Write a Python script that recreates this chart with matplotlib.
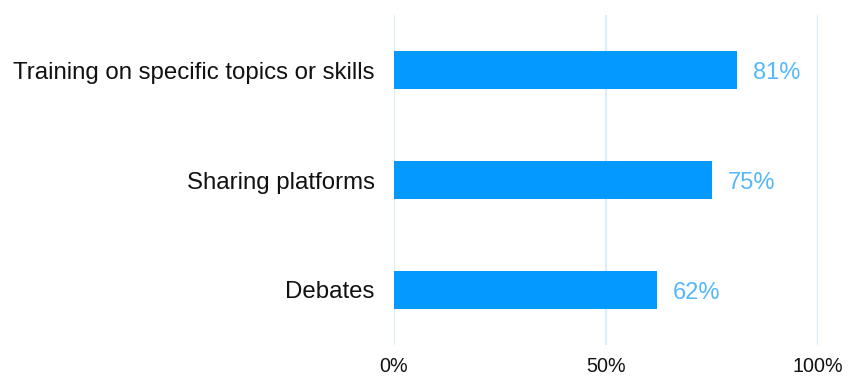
import matplotlib
matplotlib.use("Agg")
import matplotlib.pyplot as plt
from matplotlib.ticker import FuncFormatter

categories = ["Training on specific topics or skills", "Sharing platforms", "Debates"]
values = [81, 75, 62]
x_ticks = [0, 50, 100]

plt.rcParams["font.family"] = ["Liberation Sans", "DejaVu Sans"]

W, H = 848, 376
fig = plt.figure(figsize=(W / 100, H / 100), dpi=100)
ax = fig.add_axes([394 / W, 1 - 345 / H, (818 - 394) / W, 330 / H])

bar_color = "#0399FF"
label_color = "#55B8FA"
grid_color = "#DCEDFB"

y = list(range(len(categories)))
ax.barh(y, values, height=0.35, color=bar_color, zorder=3)
for yi, v in zip(y, values):
    ax.annotate(f"{v}%", (v, yi), xytext=(16, -3), textcoords="offset pixels",
                va="center", ha="left", fontsize=17, color=label_color)

ax.set_xlim(0, 100)
ax.set_ylim(len(categories) - 0.5, -0.5)
ax.set_yticks(y)
ax.set_yticklabels(categories, fontsize=17.3)
ax.set_xticks(x_ticks)
ax.xaxis.set_major_formatter(FuncFormatter(lambda v, _: f"{v:.0f}%"))
ax.tick_params(axis="x", length=0, pad=9, labelsize=14.2, labelcolor="#111111")
ax.tick_params(axis="y", length=0, pad=14, labelcolor="#111111")
ax.grid(axis="x", color=grid_color, linewidth=1.6, zorder=0)
for s in ax.spines.values():
    s.set_visible(False)

fig.savefig("out.png", dpi=100)
